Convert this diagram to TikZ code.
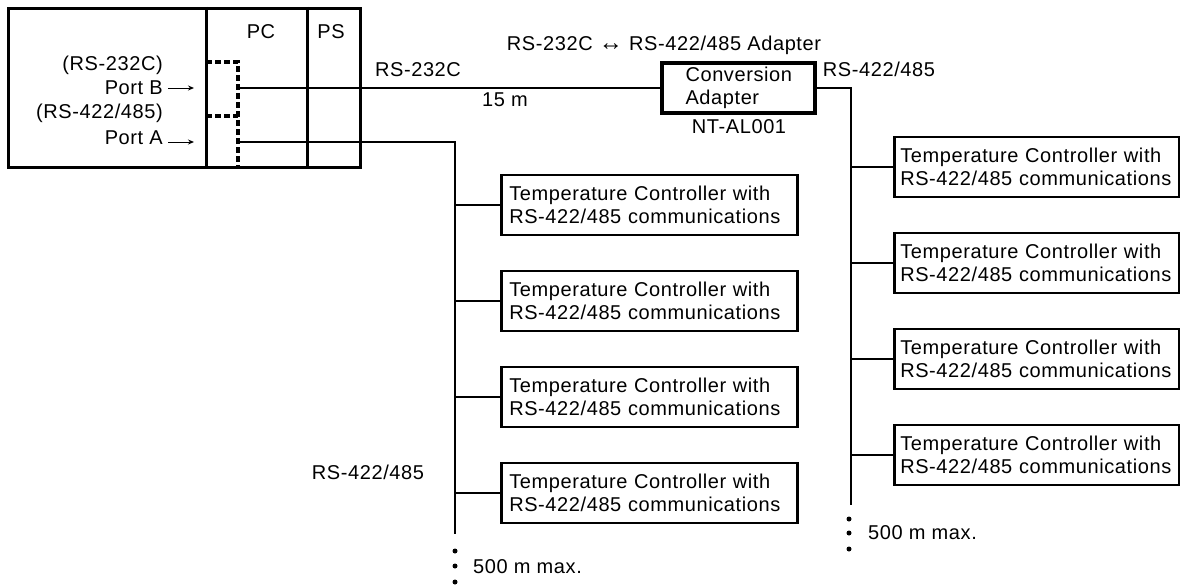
\documentclass[tikz,border=0pt]{standalone}
\usepackage{fontspec}
\setmainfont{Liberation Sans}[LetterSpace=3]
\usetikzlibrary{arrows.meta}
\begin{document}
\begin{tikzpicture}[x=1pt,y=-1pt,
  font=\fontsize{20}{23}\selectfont,
  thickbox/.style={draw, line width=3pt},
  tcl/.style={draw, line width=2.5pt, minimum height=60pt, text width=280pt,
    inner xsep=8pt, inner ysep=0pt, align=left, anchor=west},
  tcr/.style={tcl, text width=273pt, inner xsep=6pt},
  wire/.style={line width=1.2pt},
  dashwire/.style={line width=3.2pt, dash pattern=on 5.5pt off 3.5pt},
  lbl/.style={inner sep=0pt},
  portarrow/.style={line width=1pt, -{Stealth[length=6pt,width=5pt]}},
  dot/.style={fill=black}]
\useasboundingbox (0,0) rectangle (1180,586);

% host unit
\node (host) [thickbox, anchor=north west, minimum width=352pt, minimum height=159pt, inner sep=0pt] at (7,7) {};
\draw[line width=3pt] (206,7) -- (206,166);
\draw[line width=3pt] (307,7) -- (307,166);
\node (pc) [lbl] at (261,32) {PC};
\node (ps) [lbl] at (331,32) {PS};

\node (l232) [lbl, anchor=east] at (163,65) {(RS-232C)};
\node (lpb)  [lbl, anchor=east] at (163,88) {Port B};
\node (l422) [lbl, anchor=east] at (163,113) {(RS-422/485)};
\node (lpa)  [lbl, anchor=east] at (163,138) {Port A};
\coordinate (pbs) at (168,88);
\coordinate (pbe) at (194,88);
\coordinate (pas) at (168,142);
\coordinate (pae) at (194,142);
\draw[portarrow] (pbs) -- (pbe);
\draw[portarrow] (pas) -- (pae);

% dashed internal wiring
\coordinate (d1) at (206,62);
\coordinate (d1c) at (238,62);
\coordinate (d2) at (206,116);
\coordinate (d2c) at (238,116);
\coordinate (dend) at (238,166);
\draw[dashwire] (d1) -- (d1c) -- (dend);
\draw[dashwire] (d2) -- (d2c);

\coordinate (pB) at (238,88);
\coordinate (pA) at (238,142);

% adapter
\node (ad) [draw, line width=3.5pt, minimum width=153pt, minimum height=50pt,
  text width=106pt, inner xsep=23.5pt, inner ysep=0pt, align=left] at (738.5,88)
  {\mbox{Conversion}\\\mbox{Adapter}};
\node (adtitle) [lbl] at (664,45) {RS-232C {\fontsize{24}{24}\selectfont ↔} RS-422/485 Adapter};
\node (adname) [lbl] at (739,127) {NT-AL001};
\node (t232) [lbl] at (418,70) {RS-232C};
\node (t15) [lbl] at (505,100) {15 m};
\node (t485r) [lbl] at (879,69) {RS-422/485};
\node (t485l) [lbl] at (368,472) {RS-422/485};

\draw[wire] (pB) -- (ad.west);

% left bus
\coordinate (lb) at (455,142);
\coordinate (lbe) at (455,534);
\draw[wire] (pA) -- (lb) -- (lbe);
\foreach \i/\y in {1/205,2/301,3/397,4/493}{
  \node (l\i) [tcl] at (500,\y) {\mbox{Temperature Controller with}\\\mbox{RS-422/485 communications}};
  \draw[wire] (l\i.west -| lb) -- (l\i.west);
}
\fill[dot] (455,551) circle (2.5);
\fill[dot] (455,566) circle (2.5);
\fill[dot] (455,582) circle (2.5);
\node (lmax) [lbl, anchor=west] at (473,567) {500 m max.};

% right bus
\coordinate (rb) at (851,88);
\coordinate (rbe) at (851,505);
\draw[wire] (ad.east) -- (rb) -- (rbe);
\foreach \i/\y in {1/167,2/263,3/359,4/455}{
  \node (r\i) [tcr] at (893,\y) {\mbox{Temperature Controller with}\\\mbox{RS-422/485 communications}};
  \draw[wire] (r\i.west -| rb) -- (r\i.west);
}
\fill[dot] (849,519) circle (2.5);
\fill[dot] (849,533) circle (2.5);
\fill[dot] (849,549) circle (2.5);
\node (rmax) [lbl, anchor=west] at (868,533) {500 m max.};
\end{tikzpicture}
\end{document}
